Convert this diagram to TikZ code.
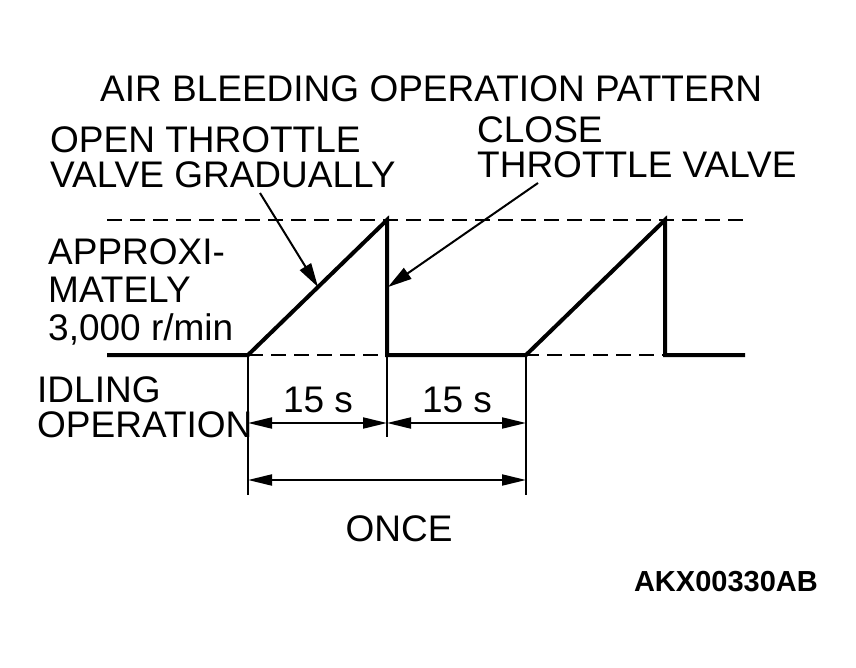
\documentclass[tikz,border=0pt]{standalone}
\usepackage{fontspec}
\setmainfont{Liberation Sans}
\usetikzlibrary{arrows.meta}
\begin{document}
\begin{tikzpicture}[x=1pt,y=-1pt,
  lbl/.style={anchor=base west,inner sep=0pt,font=\fontsize{37}{35}\selectfont},
  clbl/.style={anchor=base,inner sep=0pt,font=\fontsize{37}{35}\selectfont},
  wave/.style={line width=4pt,line join=miter},
  thin/.style={line width=2pt},
  dashline/.style={line width=2pt,dash pattern=on 15pt off 8pt},
  dim/.style={line width=2pt,{Triangle[length=24pt,width=11pt]}-{Triangle[length=24pt,width=11pt]}},
  pointer/.style={line width=2pt,-{Triangle[length=24pt,width=13pt]}}]
\useasboundingbox (0,0) rectangle (856,668);
% key points
\coordinate (s0) at (107,355);
\coordinate (r1b) at (248,355);
\coordinate (r1t) at (387,220);
\coordinate (d1) at (387,355);
\coordinate (r2b) at (526,355);
\coordinate (r2t) at (665,220);
\coordinate (d2) at (665,355);
\coordinate (e0) at (745,355);
\coordinate (tl) at (107,220);
\coordinate (tr) at (745,220);
% dashed reference lines
\draw[dashline] (tl) -- (tr);
\draw[dashline] (r1b) -- (e0);
% wave
\draw[wave] (s0) -- (r1b) -- (r1t) -- (d1) -- (r2b) -- (r2t) -- (d2) -- (e0);
% extension lines
\coordinate (x1) at (248,495);
\coordinate (x2) at (387,437);
\coordinate (x3) at (526,495);
\draw[thin] (r1b) -- (x1);
\draw[thin] (d1) -- (x2);
\draw[thin] (r2b) -- (x3);
% dimensions
\coordinate (a1) at (248,423);
\coordinate (a2) at (387,423);
\coordinate (a3) at (526,423);
\coordinate (b1) at (248,480);
\coordinate (b3) at (526,480);
\draw[dim] (a1) -- (a2);
\draw[dim] (a2) -- (a3);
\draw[dim] (b1) -- (b3);
% texts
\node[lbl] (title) at (100,102) {AIR BLEEDING OPERATION PATTERN};
\node[lbl] (open1) at (50,153) {OPEN THROTTLE};
\node[lbl] (open2) at (50,188) {VALVE GRADUALLY};
\node[lbl] (close1) at (477,143) {CLOSE};
\node[lbl] (close2) at (477,178) {THROTTLE VALVE};
\node[lbl] (ap1) at (48,265) {APPROXI-};
\node[lbl] (ap2) at (48,302) {MATELY};
\node[lbl] (ap3) at (48,340) {3,000 r/min};
\node[lbl] (id1) at (37,402) {IDLING};
\node[lbl] (id2) at (37,437) {OPERATION};
\node[clbl] (t1) at (318,412) {15 s};
\node[clbl] (t2) at (457,412) {15 s};
\node[clbl] (once) at (399,541) {ONCE};
\node[anchor=base east,inner sep=0pt,font=\fontsize{29}{29}\selectfont\bfseries] (code) at (818,591) {AKX00330AB};
% pointers
\coordinate (p1s) at (260,193);
\coordinate (p1e) at (318,287);
\coordinate (p2s) at (538,183);
\coordinate (p2e) at (388,287);
\draw[pointer] (p1s) -- (p1e);
\draw[pointer] (p2s) -- (p2e);
\end{tikzpicture}
\end{document}
